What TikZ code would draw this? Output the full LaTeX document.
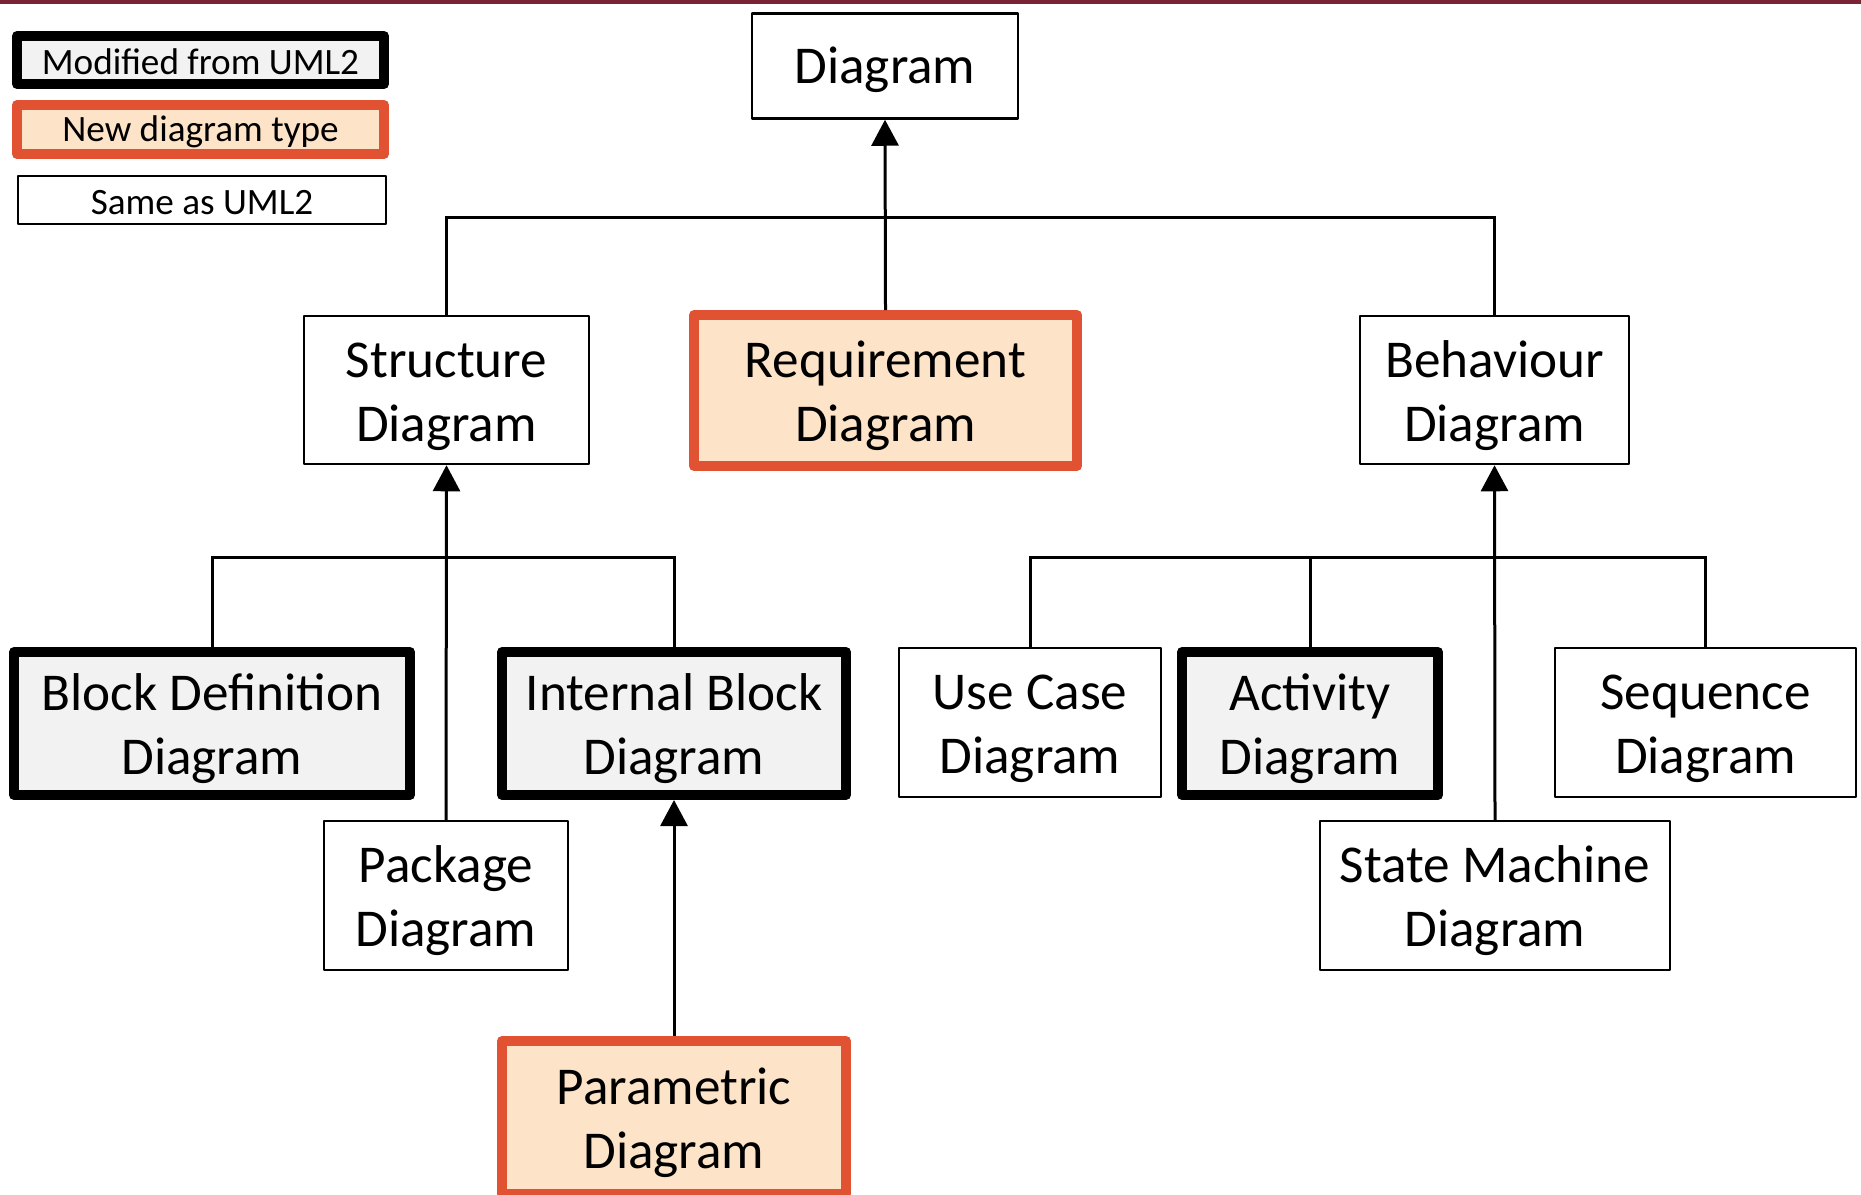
\documentclass[tikz,border=0pt]{standalone}
\usepackage{fontspec}
\setmainfont{Carlito}
\usetikzlibrary{arrows.meta}
\definecolor{bandred}{HTML}{7B2335}
\definecolor{neworange}{HTML}{E05232}
\definecolor{newfill}{HTML}{FDE3C7}
\definecolor{modfill}{HTML}{F2F2F2}
% strut that sets the height of the first text line in a box
\newcommand\firstline{\rule{0pt}{24pt}}

\begin{document}
\begin{tikzpicture}[x=0.5pt,y=-0.5pt,
  sz/.style 2 args={minimum width=#1*0.5pt, minimum height=#2*0.5pt},
  topstrut/.style={execute at begin node={\rule{0pt}{#1}}},
  frame/.style={draw=black, line width=1.25pt, fill=white, inner sep=0pt,
    align=center, line join=round},
  bigtext/.style={font=\fontsize{26.6}{32}\selectfont},
  smalltext/.style={font=\fontsize{18.6}{22}\selectfont, topstrut=15pt},
  box/.style={frame, bigtext},
  plain/.style={frame},
  modframe/.style={frame, line width=5pt, fill=modfill},
  newframe/.style={frame, draw=neworange, line width=5pt, fill=newfill},
  modbox/.style={modframe, bigtext},
  newbox/.style={newframe, bigtext},
  link/.style={line width=1.5pt, draw=black},
  gen/.style={link, -{Triangle[length=13pt,width=13.5pt]}}
]
\useasboundingbox (0,0) rectangle (1861,1194);
\clip (0,0) rectangle (1861,1194);
\fill[white] (0,0) rectangle (1861,1194);
% thin band along the top edge
\fill[bandred] (0,0) rectangle (1861,3.5);

% legend
\node[modframe, smalltext, sz={367}{48}] (lmod) at (200.5,60) {Modified from UML2};
\node[newframe, smalltext, sz={367}{49}] (lnew) at (200.5,129.5) {New diagram type};
\node[plain, smalltext, sz={368}{48}] (lsame) at (202,200) {Same as UML2};

% diagram types
\node[box, topstrut=22pt, sz={266}{105}] (diag) at (885,66) {Diagram};
\node[box, sz={285}{148}] (struct) at (446.5,390) {\firstline Structure\\Diagram};
\node[newbox, sz={383}{151}] (req) at (885.5,390.5) {\firstline Requirement\\Diagram};
\node[box, sz={269}{148}] (behav) at (1494.5,390) {\firstline Behaviour\\Diagram};

\node[modbox, sz={396}{143}] (bdd) at (212,723.5) {\firstline Block Definition\\Diagram};
\node[modbox, sz={344}{143}] (ibd) at (674,723.5) {\firstline Internal Block\\Diagram};
\node[box, sz={244}{149}] (pkg) at (446,895.5) {\firstline Package\\Diagram};
\node[newbox, sz={344}{153}] (par) at (674,1117.5) {\firstline Parametric\\Diagram};

\node[box, sz={262}{149}] (uc) at (1030,722.5) {\firstline Use Case\\Diagram};
\node[modbox, sz={256}{143}] (act) at (1310,723.5) {\firstline Activity\\Diagram};
\node[box, sz={301}{149}] (seq) at (1705.5,722.5) {\firstline Sequence\\Diagram};
\node[box, sz={350}{149}] (sm) at (1495,895.5) {\firstline State Machine\\Diagram};

% branch levels
\coordinate (topbus) at (885,217);
\coordinate (sbus) at (446,557);
\coordinate (bbus) at (1495,557);

% connectors
\draw[link] (struct.north) -- (struct.north |- topbus) -| (behav.north);
\draw[gen] (req.north) -- (diag.south);

\draw[link] (bdd.north) -- (bdd.north |- sbus) -| (ibd.north);
\draw[gen] (pkg.north) -- (struct.south);
\draw[gen] (par.north) -- (ibd.south);

\draw[link] (uc.north) -- (uc.north |- bbus) -| (seq.north);
\draw[link] (act.north) -- (act.north |- bbus);
\draw[gen] (sm.north) -- (behav.south);
\end{tikzpicture}
\end{document}
